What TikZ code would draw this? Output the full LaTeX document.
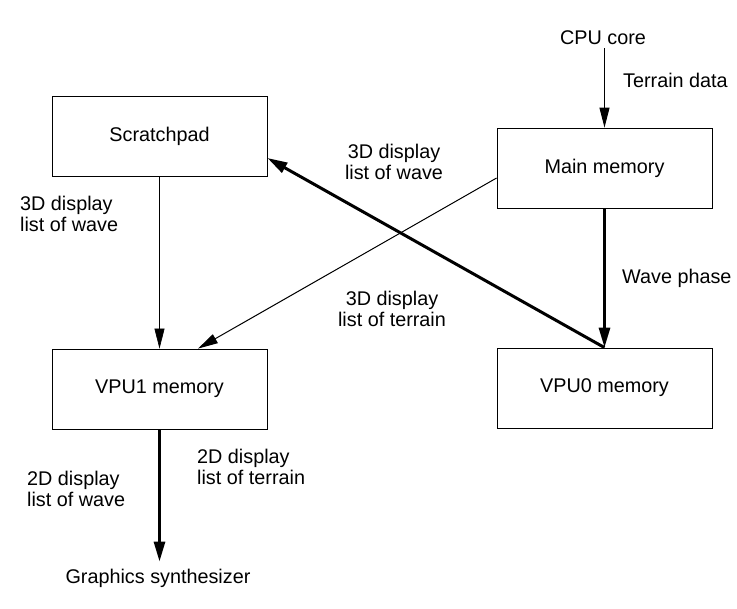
\documentclass[tikz,border=0pt]{standalone}
\usepackage{fontspec}
\setmainfont{Liberation Sans}
\usetikzlibrary{arrows.meta}

\begin{document}
\begin{tikzpicture}[x=1pt,y=-1pt,every node/.style={align=center,font=\fontsize{19.8}{21}\selectfont},
	unit/.style={draw,line width=0.8pt,minimum width=215pt,minimum height=80pt,inner sep=0pt},
	label/.style={inner sep=0pt},
	bus/.style={line width=3pt,-{Triangle[length=20pt,width=11pt]}},
	thinbus/.style={line width=1pt,-{Triangle[length=20pt,width=10pt]}},
	feed/.style={line width=0.6pt,-{Triangle[length=20pt,width=10pt]}}]
		\useasboundingbox (0,0) rectangle (737,609);
		% boxes
		\node[unit] (scratch) at (159.5,136) {Scratchpad};
		\node[unit] (main) at (604.5,168) {Main memory};
		\node[unit] (vpuone) at (159.5,389) {VPU1 memory};
		\node[unit] (vpuzero) at (604.5,388) {VPU0 memory};
		% free ends
		\node[label] (cpu) at (603,38) {CPU core};
		\node[label] (gs) at (158,578) {Graphics synthesizer};
		% labels on the connectors
		\node[label,anchor=west] (terrain) at (623,80) {Terrain data};
		\node[label,anchor=west] (phase) at (622,278) {Wave phase};
		\node[label,align=left,anchor=west] (waveleft) at (20,214) {3D display\\list of wave};
		\node[label] (wavemid) at (394,162) {3D display\\list of wave};
		\node[label] (terrainmid) at (392,309) {3D display\\list of terrain};
		\node[label,align=left,anchor=west] (terraintwo) at (197,467) {2D display\\list of terrain};
		\node[label,align=left,anchor=west] (wavetwo) at (27,489) {2D display\\list of wave};
		% connectors
		\draw[thinbus,shorten <=3pt] (cpu.south -| main.north) -- (main.north);
		\draw[bus] (main.south) -- (vpuzero.north);
		\draw[bus] (vpuzero.north) -- ([yshift=-22pt]scratch.east);
		\draw[thinbus] ([yshift=-10pt]main.west) -- ([xshift=38.5pt]vpuone.north);
		\draw[feed] (scratch.south) -- (vpuone.north);
		\draw[bus,shorten >=7pt] (vpuone.south) -- (gs.north -| vpuone.south);
	\end{tikzpicture}
\end{document}
